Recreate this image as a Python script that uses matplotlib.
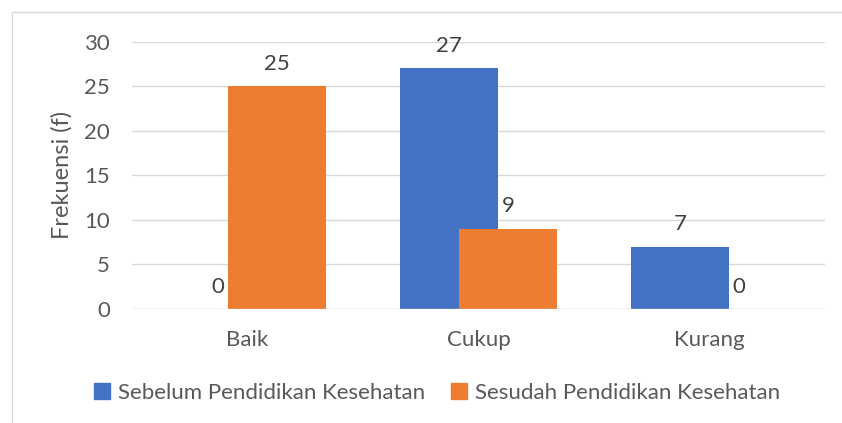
import numpy as np
import matplotlib.pyplot as plt
from matplotlib.lines import Line2D
from matplotlib.patches import Patch

# data
categories = ["Baik", "Cukup", "Kurang"]
sebelum = [0, 27, 7]
sesudah = [25, 9, 0]
series_names = ["Sebelum Pendidikan Kesehatan", "Sesudah Pendidikan Kesehatan"]
y_ticks = [0, 5, 10, 15, 20, 25, 30]

blue = "#4472C4"
orange = "#ED7D31"
grid_col = "#D9D9D9"
text_col = "#595959"

plt.rcParams["font.family"] = ["Lato", "DejaVu Sans"]

W, H = 842, 423
fig = plt.figure(figsize=(W / 100, H / 100), dpi=100)
ax = fig.add_axes([132 / W, 1 - 309 / H, (825 - 132) / W, (309 - 41.5) / H])

x = np.arange(len(categories))
width = 0.424
offset = 0.128
b1 = ax.bar(x - offset, sebelum, width, color=blue, zorder=2)
b2 = ax.bar(x + offset, sesudah, width, color=orange, zorder=3)

for bars in (b1, b2):
    ax.bar_label(bars, padding=9, fontsize=16, color="#404040")

ax.set_xlim(-0.5, 2.5)
ax.set_ylim(0, 30)
ax.set_yticks(y_ticks)
ax.set_xticks(x)
ax.set_xticklabels(categories)
ax.tick_params(axis="both", length=0, labelsize=16, labelcolor=text_col)
ax.tick_params(axis="y", pad=16)
ax.tick_params(axis="x", pad=15)
ax.grid(axis="y", color=grid_col, linewidth=1.0, zorder=0)
for s in ax.spines.values():
    s.set_visible(False)
ax.axhline(0, color=grid_col, linewidth=1.0, zorder=4)

ax.set_ylabel("Frekuensi (f)", fontsize=17, color=text_col, labelpad=8)

handles = [Patch(color=blue), Patch(color=orange)]
fig.legend(handles, series_names, loc="center", bbox_to_anchor=(437 / W, 1 - 393 / H),
           ncol=2, frameon=False, fontsize=16, labelcolor=text_col,
           handlelength=0.7, handleheight=0.7, handletextpad=0.35, columnspacing=1.2)

# chart border (only top and left edges are visible in the crop)
fig.add_artist(Line2D([11.5 / W, 11.5 / W, 1], [0, 1 - 12.5 / H, 1 - 12.5 / H],
                      transform=fig.transFigure, color=grid_col, linewidth=1.0))

fig.savefig("out.png", dpi=100)
